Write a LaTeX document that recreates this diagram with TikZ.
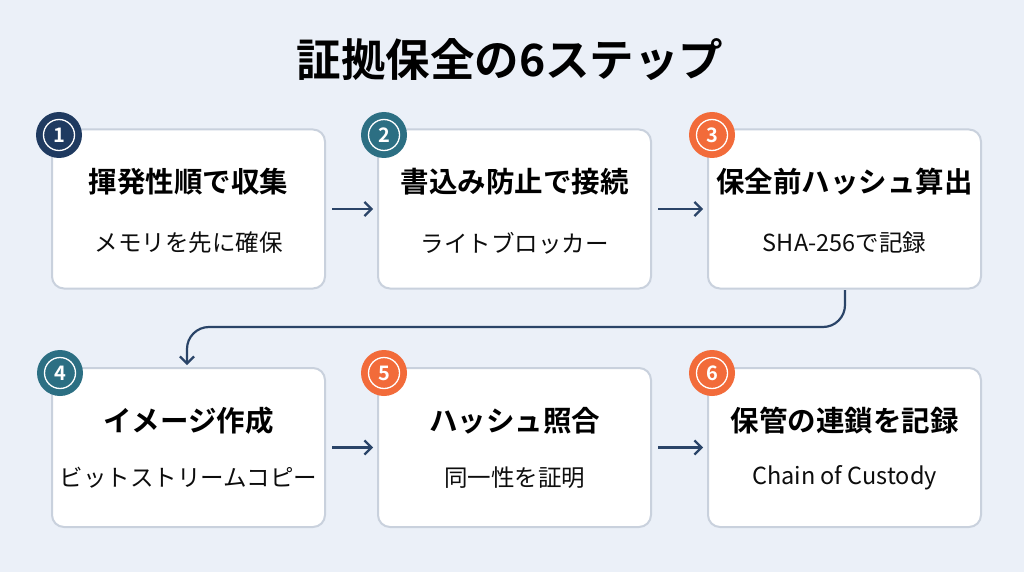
\documentclass[tikz,border=0pt]{standalone}
\usepackage{fontspec}
\setmainfont{Noto Sans CJK JP}[BoldFont={* Bold}]
\usetikzlibrary{arrows.meta}
\definecolor{bg}{HTML}{EBF0F8}
\definecolor{boxline}{HTML}{C9D1DD}
\definecolor{navy}{HTML}{1F3A60}
\definecolor{teal}{HTML}{2C6F83}
\definecolor{orng}{HTML}{F26B3A}
\definecolor{arrowc}{HTML}{2A4468}
\tikzset{
  stepbox/.style={draw=boxline, line width=2pt, fill=white, rounded corners=12pt, minimum width=273pt, minimum height=159pt, inner sep=0pt},
  ttl/.style={font=\bfseries\fontsize{28.5}{32}\selectfont, text=black},
  sub/.style={font=\fontsize{23.5}{27}\selectfont, text=black!95},
  badge/.style={circle, minimum size=46pt, inner sep=0pt},
  ring/.style={circle, draw=white, line width=1.3pt, minimum size=31pt, inner sep=0pt, text=white, font=\bfseries\fontsize{20}{20}\selectfont},
  flow/.style={draw=arrowc, line width=2.2pt, -{Straight Barb[length=7pt,width=14pt,line width=2.2pt]}}
}
\begin{document}
\begin{tikzpicture}[x=1pt,y=-1pt]
\fill[bg] (0,0) rectangle (1024,572);
\useasboundingbox (0,0) rectangle (1024,572);
\node[font=\bfseries\fontsize{44.5}{50}\selectfont] (title) at (510,60) {証拠保全の6ステップ};
% boxes
\node[stepbox] (b1) at (188.5,209) {};
\node[stepbox] (b2) at (514.5,209) {};
\node[stepbox] (b3) at (844.5,209) {};
\node[stepbox] (b4) at (188.5,447.5) {};
\node[stepbox] (b5) at (514.5,447.5) {};
\node[stepbox] (b6) at (844.5,447.5) {};
% texts
\node[ttl] (t1) at (188.5,182) {揮発性順で収集};
\node[sub] (s1) at (188.5,243) {メモリを先に確保};
\node[ttl] (t2) at (514.5,182) {書込み防止で接続};
\node[sub] (s2) at (514.5,243) {ライトブロッカー};
\node[ttl] (t3) at (844.5,182) {保全前ハッシュ算出};
\node[sub] (s3) at (844.5,243) {SHA-256で記録};
\node[ttl] (t4) at (188.5,421) {イメージ作成};
\node[sub] (s4) at (188.5,478) {ビットストリームコピー};
\node[ttl] (t5) at (514.5,421) {ハッシュ照合};
\node[sub] (s5) at (514.5,478) {同一性を証明};
\node[ttl] (t6) at (844.5,421) {保管の連鎖を記録};
\node[sub] (s6) at (844.5,478) {Chain of Custody};
% badges
\node[badge, fill=navy] (c1) at (59,135) {};
\node[ring] (r1) at (c1) {1};
\node[badge, fill=teal] (c2) at (384,135) {};
\node[ring] (r2) at (c2) {2};
\node[badge, fill=orng] (c3) at (712,135) {};
\node[ring] (r3) at (c3) {3};
\node[badge, fill=teal] (c4) at (60,373) {};
\node[ring] (r4) at (c4) {4};
\node[badge, fill=orng] (c5) at (384,373) {};
\node[ring] (r5) at (c5) {5};
\node[badge, fill=orng] (c6) at (712,373) {};
\node[ring] (r6) at (c6) {6};
% arrows
\draw[flow] ([xshift=6pt]b1.east) -- ([xshift=-4pt]b2.west);
\draw[flow] ([xshift=6pt]b2.east) -- ([xshift=-4pt]b3.west);
\draw[flow] ([xshift=6pt]b4.east) -- ([xshift=-4pt]b5.west);
\draw[flow] ([xshift=6pt]b5.east) -- ([xshift=-4pt]b6.west);
\coordinate (d1) at (845,290);
\coordinate (d2) at (187,365);
\draw[flow, rounded corners=22pt] (d1) -- (845,327) -- (187,327) -- (d2);
\end{tikzpicture}
\end{document}
